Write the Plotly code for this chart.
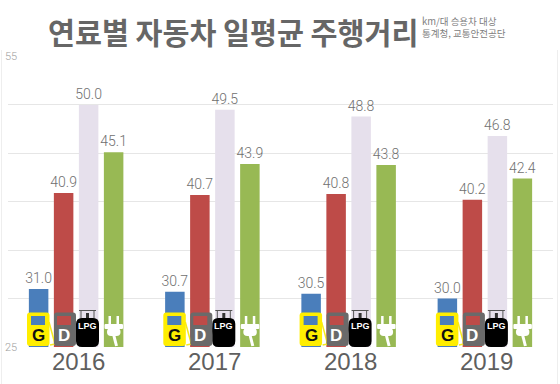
import plotly.graph_objects as go

years = ["2016", "2017", "2018", "2019"]
gasoline = [31.0, 30.7, 30.5, 30.0]
diesel = [40.9, 40.7, 40.8, 40.2]
lpg = [50.0, 49.5, 48.8, 46.8]
electric = [45.1, 43.9, 43.8, 42.4]
series = [("휘발유", gasoline, "#4a7ebb"), ("경유", diesel, "#be4b48"),
          ("LPG", lpg, "#e6e0ec"), ("전기", electric, "#98b954")]
tick_vals = [25, 30, 35, 40, 45, 50, 55]
tick_text = ["25", "", "", "", "", "", "55"]
title = "연료별 자동차 일평균 주행거리"
note = "km/대 승용차 대상<br>통계청, 교통안전공단"

W, H = 560, 384
L, R, T, B = 8, 553, 56.5, 347
px = lambda x: x / W
py = lambda y: 1 - y / H

fig = go.Figure()
for name, vals, col in series:
    fig.add_trace(go.Bar(x=years, y=vals, name=name, marker_color=col, marker_line_width=0,
                         text=[f"{v:.1f}" for v in vals], textposition="outside", cliponaxis=False,
                         constraintext="none",
                         textfont=dict(family="Roboto", size=14, color="#707070", weight=300),
                         hoverinfo="skip"))

shapes, annos = [], []

def rect(x0, y0, x1, y1, fill, r=0, line=None, lw=0):
    if r:
        p = (f"M{px(x0+r)},{py(y0)} L{px(x1-r)},{py(y0)} Q{px(x1)},{py(y0)} {px(x1)},{py(y0+r)} "
             f"L{px(x1)},{py(y1-r)} Q{px(x1)},{py(y1)} {px(x1-r)},{py(y1)} L{px(x0+r)},{py(y1)} "
             f"Q{px(x0)},{py(y1)} {px(x0)},{py(y1-r)} L{px(x0)},{py(y0+r)} Q{px(x0)},{py(y0)} {px(x0+r)},{py(y0)} Z")
        shapes.append(dict(type="path", xref="paper", yref="paper", path=p, fillcolor=fill,
                           line=dict(width=lw, color=line or fill), layer="above"))
    else:
        shapes.append(dict(type="rect", xref="paper", yref="paper", x0=px(x0), x1=px(x1), y0=py(y0), y1=py(y1),
                           fillcolor=fill, line=dict(width=lw, color=line or fill), layer="above"))

def label(x, y, t, size, color, fam="Liberation Sans", **kw):
    annos.append(dict(xref="paper", yref="paper", x=px(x), y=py(y), text=t, showarrow=False,
                      font=dict(family=fam, size=size, color=color), xanchor="center", yanchor="middle", **kw))

def line(x0, y0, x1, y1, col, w):
    shapes.append(dict(type="line", xref="paper", yref="paper", x0=px(x0), x1=px(x1), y0=py(y0), y1=py(y1),
                       line=dict(color=col, width=w), layer="above"))

step = 136.3
for i in range(len(years)):
    o = i * step
    # gasoline pump
    line(49 + o, 322, 55 + o, 344, "#f5ea1e", 1.5)
    line(50 + o, 345, 55 + o, 344, "#f5ea1e", 1.5)
    rect(27 + o, 312.5, 49.5 + o, 346, "#ffee00", r=3)
    rect(31 + o, 316, 45 + o, 325, "#4a7ebb")
    label(38.5 + o, 335, "<b>G</b>", 17, "#111111")
    # diesel pump
    line(74 + o, 322, 80 + o, 344, "#6a6a6a", 1.5)
    rect(54 + o, 312.5, 76 + o, 346, "#6a6a6a", r=3)
    rect(57 + o, 316, 71 + o, 325, "#be4b48")
    label(63.5 + o, 335, "<b>D</b>", 17, "#ffffff")
    # LPG cylinder
    line(79 + o, 310.5, 96 + o, 310.5, "#555555", 1)
    line(81 + o, 310.5, 81 + o, 319, "#555555", 1)
    line(94 + o, 310.5, 94 + o, 319, "#555555", 1)
    rect(86 + o, 313, 89 + o, 319, "#333333")
    rect(76 + o, 318, 99 + o, 347, "#000000", r=6)
    label(87.5 + o, 326, "<b>LPG</b>", 9, "#ffffff")
    # plug
    rect(108.5 + o, 316, 111 + o, 325, "#ffffff")
    rect(116.5 + o, 316, 119 + o, 325, "#ffffff")
    rect(104.5 + o, 324, 123 + o, 329, "#ffffff", r=1)
    rect(107 + o, 328, 120.5 + o, 336, "#ffffff", r=4)
    line(113.7 + o, 335, 116.5 + o, 346, "#ffffff", 3)
    # year
    label(78 + o, 361, years[i], 24, "#5f5f5f")

# side hairlines of the picture frame
line(1.5, 50, 1.5, 384, "#eeeeee", 1)
line(557.5, 50, 557.5, 384, "#eeeeee", 1)

for v, t in zip(tick_vals, tick_text):
    if t:
        annos.append(dict(xref="paper", yref="y", x=px(3), y=v, text=t, showarrow=False, bgcolor="#ffffff",
                          font=dict(family="Roboto", size=11, color="#a0a0a0", weight=300),
                          xanchor="left", yanchor="middle"))

label(233, 31, f"<b>{title}</b>", 29.3, "#666666", "Noto Sans CJK KR")
annos.append(dict(xref="paper", yref="paper", x=px(420), y=py(27), text=note, showarrow=False, align="left",
                  font=dict(family="Noto Sans CJK KR", size=9.5, color="#808080"),
                  xanchor="left", yanchor="middle"))

fig.update_layout(
    width=W, height=H, margin=dict(l=0, r=0, t=0, b=0), paper_bgcolor="#ffffff", plot_bgcolor="#ffffff",
    barmode="group", bargap=0.266, bargroupgap=0.22, showlegend=False, shapes=shapes, annotations=annos,
    xaxis=dict(domain=[px(L), px(R)], range=[-0.5, 3.5], showticklabels=False, showgrid=False, zeroline=False,
               showline=False, ticks=""),
    yaxis=dict(domain=[py(B), py(T)], range=[25, 55], tickvals=tick_vals, showticklabels=False,
               gridcolor="#e6e6e6", gridwidth=1, zeroline=False, showline=False, ticks=""),
)
fig.write_html("out.html", config=dict(displayModeBar=False),
               post_script="document.body.style.margin='0';document.documentElement.style.overflow='hidden';")
